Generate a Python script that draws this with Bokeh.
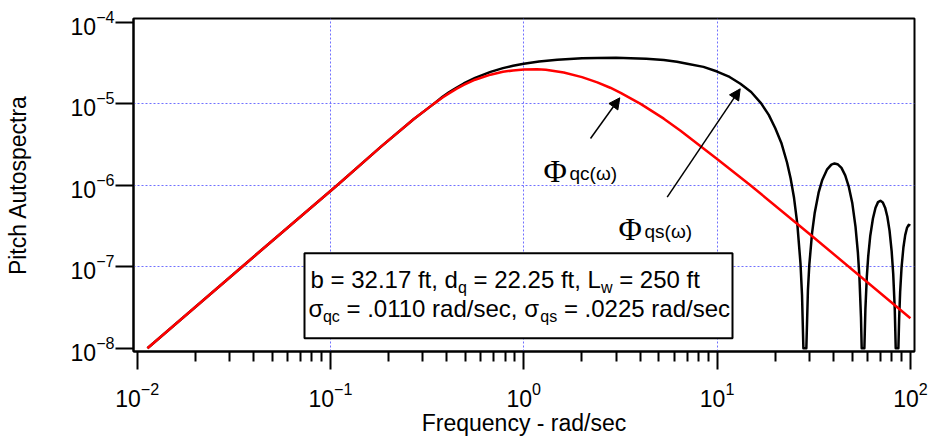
import math

from bokeh.embed import file_html
from bokeh.models import Arrow, BoxAnnotation, FixedTicker, Label, NormalHead
from bokeh.plotting import figure
from bokeh.resources import INLINE

# ---------------------------------------------------------------------------
# Pitch gust autospectra (rad/sec) -- Phi_qc (red) and Phi_qs (black)
# ---------------------------------------------------------------------------
freq_qc = [0.0113, 0.0349, 0.1083, 0.182, 0.27, 0.342, 0.38, 0.41, 0.45,
           0.489, 0.56, 0.673, 0.78, 0.88, 1.0, 1.17, 1.3, 1.61, 2.0, 2.4,
           2.8, 3.17, 4.02, 5.3, 6.47, 10.0, 14.7, 30.4, 100.0]
phi_qc = [1.0e-8, 1.0e-7, 1.0e-6, 2.95e-6, 6.5e-6, 9.95e-6, 1.19e-5, 1.34e-5,
          1.53e-5, 1.70e-5, 1.97e-5, 2.27e-5, 2.46e-5, 2.56e-5, 2.63e-5,
          2.64e-5, 2.61e-5, 2.41e-5, 2.12e-5, 1.83e-5, 1.57e-5, 1.36e-5,
          9.95e-6, 6.55e-6, 4.67e-6, 2.10e-6, 1.02e-6, 2.47e-7, 2.33e-8]

freq_qs = [0.0113, 0.0349, 0.1083, 0.182, 0.27, 0.342, 0.38, 0.41, 0.45,
           0.489, 0.56, 0.673, 0.78, 0.88, 1.0, 1.2, 1.49, 2.0, 2.4, 3.0,
           3.57, 4.3, 5.3, 6.2, 7.0, 8.5, 10.0, 11.6, 13.2, 15.0, 16.9, 18.5,
           20.0, 21.5, 23.0, 24.0, 25.0, 26.0, 27.0, 27.5, 27.95, 28.95, 29.5,
           30.0, 31.0, 32.0, 33.5, 35.0, 37.0, 39.0, 40.5, 42.0, 44.0, 46.0,
           48.0, 50.0, 52.0, 53.5, 54.5, 55.5, 55.98, 57.8, 58.5, 59.5, 60.5,
           62.0, 64.0, 66.0, 68.0, 70.0, 72.0, 74.0, 76.0, 78.0, 80.0, 81.5,
           83.0, 83.96, 86.66, 87.5, 88.5, 90.0, 92.0, 94.0, 96.0, 98.0, 100.0]
phi_qs = [1.0e-8, 1.0e-7, 1.0e-6, 2.95e-6, 6.5e-6, 9.95e-6, 1.22e-5, 1.38e-5,
          1.58e-5, 1.77e-5, 2.07e-5, 2.46e-5, 2.73e-5, 2.92e-5, 3.09e-5,
          3.29e-5, 3.47e-5, 3.60e-5, 3.64e-5, 3.65e-5, 3.62e-5, 3.56e-5,
          3.44e-5, 3.27e-5, 3.10e-5, 2.83e-5, 2.48e-5, 2.13e-5, 1.76e-5,
          1.39e-5, 1.01e-5, 7.3e-6, 5.0e-6, 3.3e-6, 1.9e-6, 1.22e-6, 7.0e-7,
          3.35e-7, 1.1e-7, 4.5e-8, 1.0e-8, 1.0e-8, 5.1e-8, 1.06e-7, 2.6e-7,
          4.6e-7, 8.1e-7, 1.16e-6, 1.55e-6, 1.79e-6, 1.85e-6, 1.81e-6, 1.63e-6,
          1.32e-6, 9.6e-7, 6.1e-7, 3.1e-7, 1.49e-7, 7.3e-8, 2.4e-8, 1.0e-8,
          1.0e-8, 3.0e-8, 7.5e-8, 1.34e-7, 2.4e-7, 3.9e-7, 5.3e-7, 6.2e-7,
          6.45e-7, 6.15e-7, 5.3e-7, 4.1e-7, 2.77e-7, 1.54e-7, 8.1e-8, 3.0e-8,
          1.0e-8, 1.0e-8, 2.4e-8, 4.9e-8, 9.8e-8, 1.72e-7, 2.44e-7, 2.99e-7,
          3.26e-7, 3.21e-7]

# axis decades
x_ticks = [0.01, 0.1, 1.0, 10.0, 100.0]
y_ticks = [1e-8, 1e-7, 1e-6, 1e-5, 1e-4]
x_grid = [0.1, 1.0, 10.0]
y_grid = [1e-7, 1e-6, 1e-5]

x_title = "Frequency - rad/sec"
y_title = "Pitch Autospectra"

# ---------------------------------------------------------------------------
# layout
# ---------------------------------------------------------------------------
W, H = 932, 439
FRAME_L, FRAME_T, FRAME_R, FRAME_B = 133, 18, 914, 351
FRAME_W = FRAME_R - FRAME_L
FRAME_H = FRAME_B - FRAME_T
X_LO, X_HI = -2.0191, 2.0212      # log10 extent of the frequency axis
Y_LO, Y_HI = -8.0405, -3.9546     # log10 extent of the spectrum axis

SANS = "Liberation Sans"
SERIF = "Liberation Serif"
AXIS_FS = "23px"

# advance widths (em) of Liberation Sans glyphs used for composed labels
WIDTHS = {" ": 0.278, ",": 0.278, "-": 0.333, ".": 0.278, "/": 0.278,
          "=": 0.584, "(": 0.333, ")": 0.333, "L": 0.556, "a": 0.556,
          "b": 0.556, "c": 0.5, "d": 0.556, "e": 0.556, "f": 0.278,
          "q": 0.556, "r": 0.333, "s": 0.5, "t": 0.278, "w": 0.722,
          "σ": 0.6, "ω": 0.78}


def text_w(s, size):
    return sum(WIDTHS.get(ch, 0.556) for ch in s) * size


def to_data(px, py):
    x = 10 ** (X_LO + (px - FRAME_L) / FRAME_W * (X_HI - X_LO))
    y = 10 ** (Y_HI - (py - FRAME_T) / FRAME_H * (Y_HI - Y_LO))
    return x, y


p = figure(width=W, height=H,
           x_axis_type="log", y_axis_type="log",
           x_range=(10 ** X_LO, 10 ** X_HI), y_range=(10 ** Y_LO, 10 ** Y_HI),
           output_backend="svg", toolbar_location=None,
           min_border_left=FRAME_L, min_border_right=W - FRAME_R,
           min_border_top=FRAME_T, min_border_bottom=H - FRAME_B)

p.background_fill_color = "white"
p.border_fill_color = "white"
p.outline_line_color = "black"
p.outline_line_width = 2

# axes: outward ticks, decade labels with superscript exponents
minor = [k * 10.0 ** e for e in range(-2, 2) for k in range(2, 10)]
p.xaxis.ticker = FixedTicker(ticks=x_ticks, minor_ticks=minor)
p.yaxis.ticker = FixedTicker(ticks=y_ticks)
for ax in (p.xaxis, p.yaxis):
    ax.axis_line_width = 2
    ax.major_tick_line_width = 2
    ax.major_tick_in = 0
    ax.major_tick_out = 18
    ax.minor_tick_in = 0
    ax.minor_tick_line_width = 2
    ax.major_label_text_font = SANS
    ax.major_label_text_font_size = AXIS_FS
    ax.major_label_text_color = "black"
    ax.axis_label_text_font = SANS
    ax.axis_label_text_font_size = AXIS_FS
    ax.axis_label_text_font_style = "normal"
    ax.axis_label_text_color = "black"
p.xaxis.minor_tick_out = 10
p.yaxis.minor_tick_line_color = None
p.xaxis.major_label_standoff = 12
p.yaxis.major_label_standoff = 1
p.xaxis.axis_label = x_title
p.yaxis.axis_label = y_title
p.xaxis.axis_label_standoff = 0
p.yaxis.axis_label_standoff = 37

p.xgrid.ticker = FixedTicker(ticks=x_grid)
p.ygrid.ticker = FixedTicker(ticks=y_grid)
for g in (p.xgrid, p.ygrid):
    g.grid_line_color = "#7070ff"
    g.grid_line_width = 1
    g.grid_line_dash = "2 2"

# spectra
p.line(freq_qs, phi_qs, line_color="black", line_width=2.5, line_join="round")
p.line(freq_qc, phi_qc, line_color="red", line_width=2.5, line_join="round")


def put_text(px, py, text, size, font=SANS):
    x, y = to_data(px, py)
    p.add_layout(Label(x=x, y=y, text=text, text_font=font,
                       text_font_size=f"{size}px", text_color="black",
                       text_align="left", text_baseline="alphabetic"))


# parameter box
bx0, by0 = to_data(304, 337.7)
bx1, by1 = to_data(732, 252.7)
p.add_layout(BoxAnnotation(left=bx0, right=bx1, bottom=by0, top=by1,
                           fill_color="white", fill_alpha=1.0,
                           line_color="black", line_alpha=1.0,
                           line_width=2))

BOX_FS, SUB_FS, SUB_DROP = 24, 16, 8


def put_rich(px, py, parts):
    """Draw a line made of (text, is_subscript) pieces."""
    x = px
    for s, sub in parts:
        size = SUB_FS if sub else BOX_FS
        body = s.lstrip(" ")
        lead = text_w(s[:len(s) - len(body)], size)
        put_text(x + lead, py + (SUB_DROP if sub else 0), body, size)
        x += text_w(s, size)


put_rich(310, 279, [("b = 32.17 ft, d", False), ("q", True),
                    (" = 22.25 ft, L", False), ("w", True),
                    (" = 250 ft", False)])
put_rich(308, 308, [("σ", False), ("qc", True),
                    (" = .0110 rad/sec, σ", False), ("qs", True),
                    (" = .0225 rad/sec", False)])

# curve annotations
put_text(543, 170, "Φ", 32, font=SERIF)
put_text(569, 173, "qc(ω)", 19)
put_text(618, 228, "Φ", 32, font=SERIF)
put_text(644, 231, "qs(ω)", 19)

for (tx, ty), (hx, hy) in (((590, 138), (619.3, 97.3)),
                           ((666.7, 196.7), (739.7, 88.3))):
    xs, ys = to_data(tx, ty)
    xe, ye = to_data(hx, hy)
    p.add_layout(Arrow(x_start=xs, y_start=ys, x_end=xe, y_end=ye,
                       line_color="black", line_width=1.5,
                       end=NormalHead(size=11, fill_color="black",
                                      line_color="black", line_width=1)))

open("out.html", "w").write(file_html(p, INLINE))
